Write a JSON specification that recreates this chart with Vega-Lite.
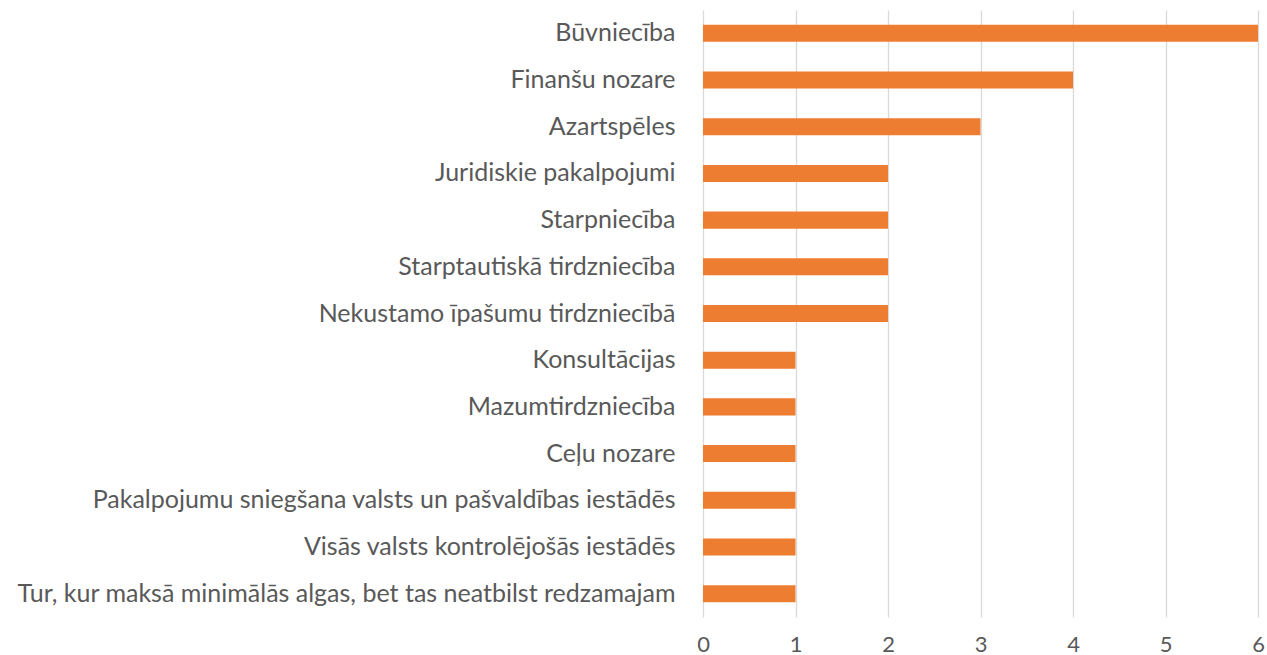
{
  "$schema": "https://vega.github.io/schema/vega-lite/v6.json",
  "autosize": {"type": "none"},
  "padding": {"left": 703, "top": 10, "right": 9, "bottom": 38},
  "width": 555,
  "height": 607,
  "background": "white",
  "config": {"view": {"stroke": null}, "font": "Lato"},
  "data": {
    "values": [
      {"nozare": "Būvniecība", "skaits": 6},
      {"nozare": "Finanšu nozare", "skaits": 4},
      {"nozare": "Azartspēles", "skaits": 3},
      {"nozare": "Juridiskie pakalpojumi", "skaits": 2},
      {"nozare": "Starpniecība", "skaits": 2},
      {"nozare": "Starptautiskā tirdzniecība", "skaits": 2},
      {"nozare": "Nekustamo īpašumu tirdzniecībā", "skaits": 2},
      {"nozare": "Konsultācijas", "skaits": 1},
      {"nozare": "Mazumtirdzniecība", "skaits": 1},
      {"nozare": "Ceļu nozare", "skaits": 1},
      {"nozare": "Pakalpojumu sniegšana valsts un pašvaldības iestādēs\u00a0", "skaits": 1},
      {"nozare": "Visās valsts kontrolējošās iestādēs", "skaits": 1},
      {"nozare": "Tur, kur maksā minimālās algas, bet tas neatbilst redzamajam", "skaits": 1}
    ]
  },
  "mark": {"type": "bar", "color": "#ED7D31"},
  "encoding": {
    "y": {
      "field": "nozare",
      "type": "nominal",
      "sort": null,
      "scale": {"paddingInner": 0.635, "paddingOuter": 0.3175},
      "axis": {
        "title": null,
        "ticks": false,
        "domain": false,
        "labelFontSize": 25,
        "labelColor": "#595959",
        "labelPadding": 28,
        "labelLimit": 720
      }
    },
    "x": {
      "field": "skaits",
      "type": "quantitative",
      "scale": {"domain": [0, 6], "nice": false},
      "axis": {
        "title": null,
        "values": [0, 1, 2, 3, 4, 5, 6],
        "format": "d",
        "ticks": false,
        "domain": false,
        "grid": true,
        "gridColor": "#d9d9d9",
        "gridWidth": 1.3,
        "labelFontSize": 22,
        "labelColor": "#595959",
        "labelPadding": 17,
        "labelFlush": false
      }
    }
  }
}
